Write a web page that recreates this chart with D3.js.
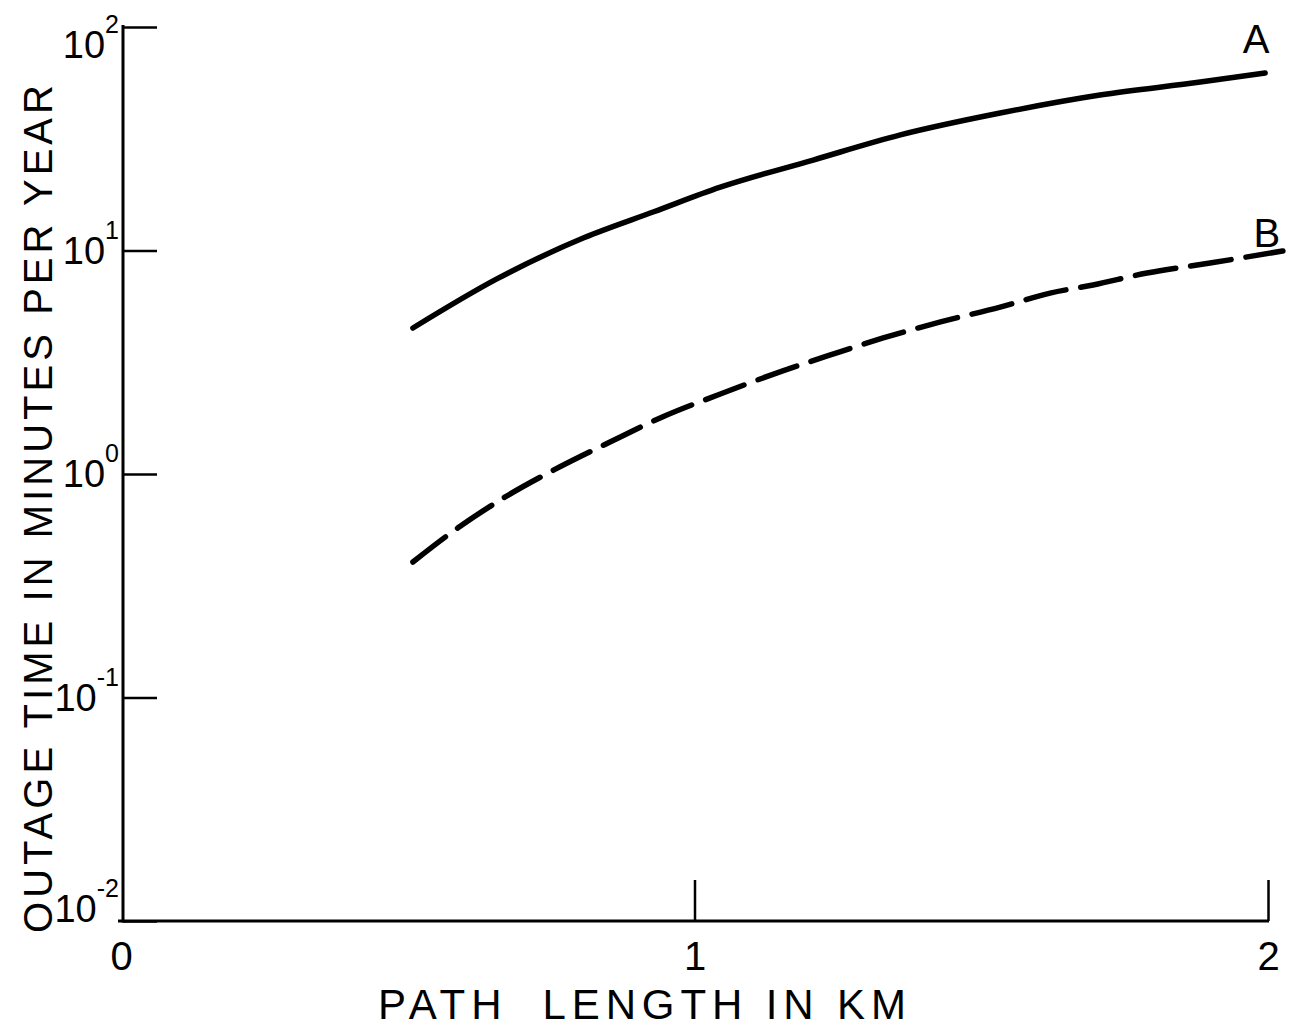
<!DOCTYPE html>
<html>
<head>
<meta charset="utf-8">
<script src="https://cdn.jsdelivr.net/npm/d3@7"></script>
<style>
  html, body { margin: 0; padding: 0; background: #fff; }
  svg { display: block; }
  text { font-family: "Liberation Sans", "DejaVu Sans", sans-serif; fill: #000; }
</style>
</head>
<body>
<svg id="chart" width="1295" height="1029"></svg>
<script>
// ---- data ----
const xTickValues = [0, 1, 2];
const xTickLabels = ["0", "1", "2"];
const yTickValues = [0.01, 0.1, 1, 10, 100];
const yTickExponents = ["-2", "-1", "0", "1", "2"];

const seriesNames = ["A", "B"];
const seriesA_x = [0.509, 0.657, 0.807, 0.929, 1.045, 1.207, 1.359, 1.533, 1.707, 1.882, 1.995];
const seriesA_y = [4.5, 7.5, 11.4, 14.9, 19.2, 25.4, 32.9, 41.2, 49.6, 56.7, 62.3];
const seriesB_x = [0.509, 0.587, 0.667, 0.754, 0.850, 0.944, 1.045, 1.138, 1.237, 1.329, 1.429, 1.533, 1.620, 1.695, 1.789, 1.899, 2.026];
const seriesB_y = [0.404, 0.573, 0.781, 1.04, 1.38, 1.80, 2.28, 2.80, 3.41, 4.06, 4.79, 5.58, 6.45, 7.01, 7.93, 8.79, 9.95];

const xTitle = "PATH  LENGTH IN KM";
const yTitle = "OUTAGE TIME IN MINUTES PER YEAR";

// ---- scales ----
const svg = d3.select("#chart");
const x = d3.scaleLinear().domain([0, 2]).range([121, 1268]);
const y = d3.scaleLog().domain([0.01, 100]).range([921, 27]);

// ---- axes ----
const xAxis = d3.axisBottom(x)
  .tickValues(xTickValues)
  .tickFormat((d, i) => xTickLabels[i])
  .tickSizeInner(-41)
  .tickSizeOuter(0)
  .tickPadding(21);

const gx = svg.append("g").attr("transform", `translate(0,${y(0.01)})`).call(xAxis);
gx.select(".domain").attr("stroke", "#000").attr("stroke-width", 3)
  .attr("d", `M${x(0) - 3},0H${x(2) + 1}`);
gx.selectAll(".tick line").attr("stroke", "#000").attr("stroke-width", 2.5)
  .filter(d => d === 0).remove();
gx.selectAll(".tick text").attr("font-size", 40).attr("font-family", "Liberation Sans").attr("fill", "#000");

const yAxis = d3.axisLeft(y)
  .tickValues(yTickValues)
  .tickFormat(() => "")
  .tickSizeInner(-34)
  .tickSizeOuter(0);

const gy = svg.append("g").attr("transform", `translate(${x(0) + 2},0)`).call(yAxis);
gy.select(".domain").attr("stroke", "#000").attr("stroke-width", 3)
  .attr("d", `M0,${y(100) - 2}V${y(0.01) + 1.5}`);
gy.selectAll(".tick line").attr("stroke", "#000").attr("stroke-width", 2.5);
gy.selectAll(".tick text").remove();

// y tick labels: 10 with superscript exponent
yTickValues.forEach((v, i) => {
  const ty = y(v);
  const base = Math.min(Math.max(ty + 13, 58), 922);
  const exp = yTickExponents[i];
  const t = svg.append("text")
    .attr("x", 119)
    .attr("y", base)
    .attr("text-anchor", "end")
    .attr("font-size", 38);
  t.append("tspan").text("10");
  t.append("tspan")
    .attr("font-size", 25)
    .attr("dx", 0)
    .attr("dy", -25)
    .text(exp);
});

// ---- lines ----
const line = d3.line()
  .x(d => x(d[0]))
  .y(d => y(d[1]))
  .curve(d3.curveMonotoneX);

const dataA = seriesA_x.map((v, i) => [v, seriesA_y[i]]);
const dataB = seriesB_x.map((v, i) => [v, seriesB_y[i]]);

svg.append("path").datum(dataA)
  .attr("d", line)
  .attr("fill", "none")
  .attr("stroke", "#000")
  .attr("stroke-width", 5.5)
  .attr("stroke-linecap", "round")
  .attr("stroke-linejoin", "round");

svg.append("path").datum(dataB)
  .attr("d", line)
  .attr("fill", "none")
  .attr("stroke", "#000")
  .attr("stroke-width", 5.5)
  .attr("stroke-linecap", "round")
  .attr("stroke-dasharray", "41 15");

// curve labels
const lastA = dataA[dataA.length - 1];
const lastB = dataB[dataB.length - 1];
svg.append("text")
  .attr("x", x(lastA[0]) - 9)
  .attr("y", y(lastA[1]) - 20)
  .attr("text-anchor", "middle")
  .attr("font-size", 40)
  .text(seriesNames[0]);
svg.append("text")
  .attr("x", x(lastB[0]) - 16)
  .attr("y", y(lastB[1]) - 4)
  .attr("text-anchor", "middle")
  .attr("font-size", 40)
  .text(seriesNames[1]);

// ---- titles ----
svg.append("text")
  .attr("x", 642)
  .attr("y", 1019)
  .attr("text-anchor", "middle")
  .attr("font-size", 42)
  .style("white-space", "pre")
  .attr("textLength", 528)
  .attr("lengthAdjust", "spacing")
  .text(xTitle);

svg.append("text")
  .attr("transform", "translate(52,509) rotate(-90)")
  .attr("text-anchor", "middle")
  .attr("font-size", 40)
  .attr("textLength", 848)
  .attr("lengthAdjust", "spacing")
  .text(yTitle);
</script>
</body>
</html>
